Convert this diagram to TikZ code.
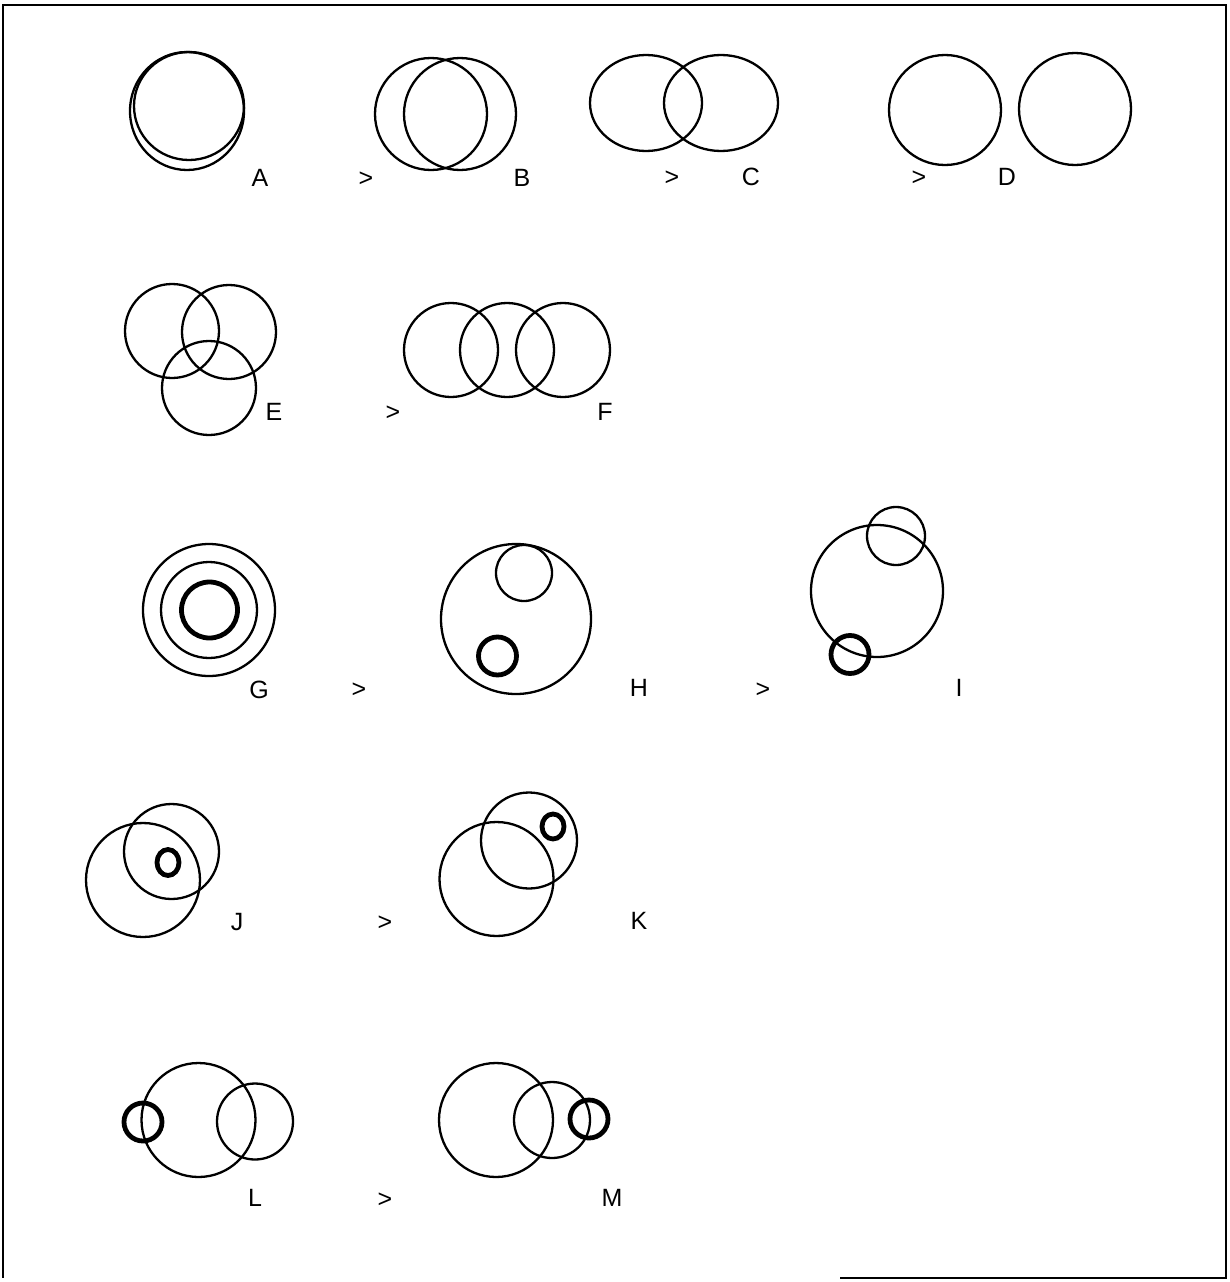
\documentclass[tikz,border=0pt]{standalone}
\usepackage{fontspec}
\setmainfont{Liberation Sans}
\begin{document}
\begin{tikzpicture}[x=1pt,y=-1pt,
  ring/.style={line width=2.3pt},
  thickring/.style={line width=4.8pt},
  lab/.style={inner sep=0pt,anchor=center,font=\fontsize{25}{28}\selectfont},
  frame/.style={line width=1.8pt}]
\useasboundingbox (0,0) rectangle (1229,1282);
\draw[frame] (840,1278) -- (1226,1278) -- (1226,5) -- (3,5) -- (3,1278);
% Row 1
\draw[ring] (189,106) circle[x radius=55pt,y radius=54pt];
\draw[ring] (187,111) circle[x radius=57pt,y radius=59pt];
\node[lab] (lA) at (260,178) {A};
\node[lab] (g1) at (366,179) {>};
\draw[ring] (431,114) circle[radius=56pt];
\draw[ring] (460,114) circle[radius=56pt];
\node[lab] (lB) at (522,178) {B};
\draw[ring] (646,103) circle[x radius=56pt,y radius=48pt];
\draw[ring] (721,103) circle[x radius=57pt,y radius=48pt];
\node[lab] (g2) at (672,178) {>};
\node[lab] (lC) at (751,177) {C};
\draw[ring] (945,110) circle[x radius=56pt,y radius=55pt];
\draw[ring] (1075,109) circle[x radius=56pt,y radius=56pt];
\node[lab] (g3) at (919,178) {>};
\node[lab] (lD) at (1007,177) {D};
% Row 2
\draw[ring] (172,331) circle[radius=47pt];
\draw[ring] (229,332) circle[radius=47pt];
\draw[ring] (209,388) circle[radius=47pt];
\node[lab] (lE) at (274,412) {E};
\node[lab] (g4) at (393,413) {>};
\draw[ring] (451,350) circle[radius=47pt];
\draw[ring] (507,350) circle[radius=47pt];
\draw[ring] (563,350) circle[radius=47pt];
\node[lab] (lF) at (605,412) {F};
% Row 3
\draw[ring] (209,610) circle[radius=66pt];
\draw[ring] (209,610) circle[radius=48pt];
\draw[thickring] (209.5,610) circle[radius=28pt];
\node[lab] (lG) at (259,690) {G};
\node[lab] (g5) at (359,690) {>};
\draw[ring] (516,619) circle[radius=75pt];
\draw[ring] (524,573) circle[radius=28pt];
\draw[thickring] (497.5,656) circle[radius=19pt];
\node[lab] (lH) at (639,688) {H};
\node[lab] (g6) at (763,690) {>};
\draw[ring] (877,591) circle[radius=66pt];
\draw[ring] (896,536) circle[radius=29pt];
\draw[thickring] (850,654.5) circle[radius=19pt];
\node[lab] (lI) at (959,688) {I};
% Row 4
\draw[ring] (143,880) circle[radius=57pt];
\draw[ring] (171.5,851.5) circle[radius=47.5pt];
\draw[thickring] (168,862.5) circle[x radius=11pt,y radius=13pt];
\node[lab] (lJ) at (237,922) {J};
\node[lab] (g7) at (385,923) {>};
\draw[ring] (496.5,879) circle[radius=57pt];
\draw[ring] (529,840.5) circle[radius=48pt];
\draw[thickring] (553,826.5) circle[x radius=11pt,y radius=12.5pt];
\node[lab] (lK) at (639,921) {K};
% Row 5
\draw[ring] (198.5,1120) circle[radius=57pt];
\draw[ring] (255,1121.5) circle[radius=38pt];
\draw[thickring] (143,1122) circle[radius=19pt];
\node[lab] (lL) at (255,1198) {L};
\node[lab] (g8) at (385,1200) {>};
\draw[ring] (496,1120) circle[radius=57pt];
\draw[ring] (552,1120) circle[radius=38pt];
\draw[thickring] (589,1119) circle[radius=19pt];
\node[lab] (lM) at (612,1198) {M};
\end{tikzpicture}
\end{document}
